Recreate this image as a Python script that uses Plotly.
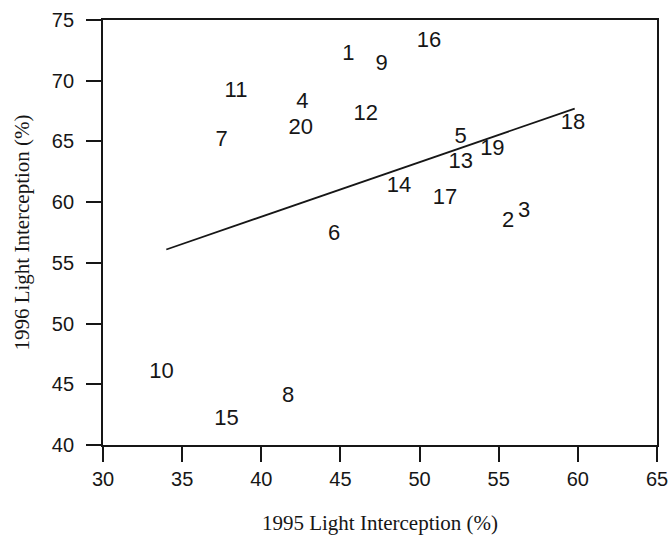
import plotly.graph_objects as go

# Plot numbers and their light interception in the two seasons
plot_ids = ["1", "2", "3", "4", "5", "6", "7", "8", "9", "10",
            "11", "12", "13", "14", "15", "16", "17", "18", "19", "20"]
intercept_1995 = [45.5, 55.6, 56.6, 42.6, 52.6, 44.6, 37.5, 41.7, 47.6, 33.7,
                  38.4, 46.6, 52.6, 48.7, 37.8, 50.6, 51.6, 59.7, 54.6, 42.5]
intercept_1996 = [72.2, 58.4, 59.2, 68.2, 65.3, 57.3, 65.1, 44.0, 71.3, 46.0,
                  69.1, 67.2, 63.3, 61.3, 42.1, 73.2, 60.3, 66.5, 64.3, 66.1]

# Fitted regression line end points
fit_x = [34.0, 59.8]
fit_y = [56.1, 67.7]

x_ticks = [30, 35, 40, 45, 50, 55, 60, 65]
y_ticks = [40, 45, 50, 55, 60, 65, 70, 75]

ink = "#161616"

fig = go.Figure()
fig.add_trace(go.Scatter(
    x=fit_x, y=fit_y, mode="lines",
    line=dict(color=ink, width=1.8), hoverinfo="skip", showlegend=False,
))
fig.add_trace(go.Scatter(
    x=intercept_1995, y=intercept_1996, mode="text", text=plot_ids,
    textposition="middle center",
    textfont=dict(family="Liberation Sans, Arial, sans-serif", size=22, color=ink),
    showlegend=False,
))

axis_common = dict(
    showgrid=False, zeroline=False, automargin=False,
    showline=True, linecolor=ink, linewidth=1.8, mirror=True,
    ticks="outside", ticklen=15, tickwidth=1.8, tickcolor=ink,
    tickfont=dict(family="Liberation Sans, Arial, sans-serif", size=20, color=ink),
)

fig.update_xaxes(
    range=[30, 65], tickvals=x_ticks, **axis_common,
    title=dict(text="1995 Light Interception (%)", standoff=26,
               font=dict(family="Liberation Serif, Times New Roman, serif", size=21, color=ink)),
)
fig.update_yaxes(
    range=[40, 75], tickvals=y_ticks, ticklabelstandoff=8, **axis_common,
    title=dict(text="1996 Light Interception (%)", standoff=16,
               font=dict(family="Liberation Serif, Times New Roman, serif", size=21, color=ink)),
)

fig.update_layout(
    width=670, height=535,
    margin=dict(l=103, r=13, t=20, b=90),
    paper_bgcolor="white", plot_bgcolor="white",
)

fig.write_html("out.html")
